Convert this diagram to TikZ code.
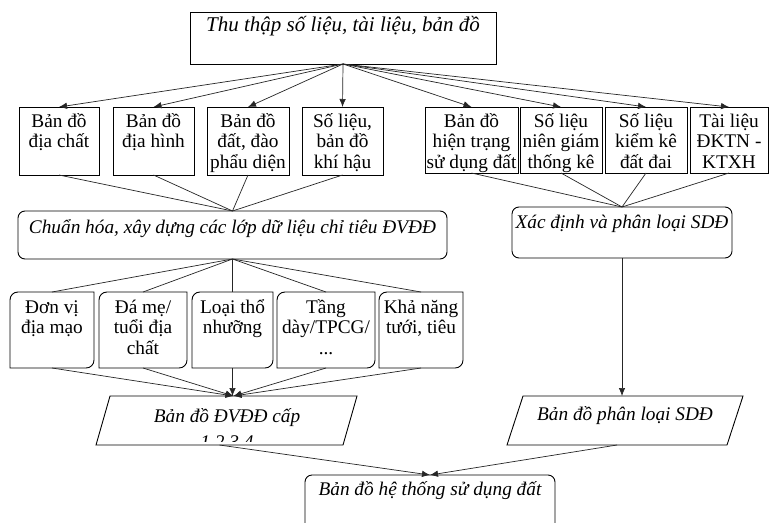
\documentclass[tikz,border=0pt]{standalone}
\usepackage{fontspec}
\setmainfont{Liberation Serif}
\usetikzlibrary{arrows.meta,calc}
\newcommand\bxt[4]{\parbox[c][#2pt][t]{#1pt}{\centering\rule{0pt}{#3pt}#4}}
\begin{document}
\begin{tikzpicture}[x=1pt,y=-1pt,
  every node/.style={inner sep=0pt, outer sep=0pt, font=\fontsize{19.3}{20.5}\selectfont},
  it/.style={font=\fontsize{19.3}{21}\selectfont\itshape},
  sq/.style={draw, line width=0.9pt},
  rbox/.style={draw, line width=0.9pt, rounded corners=7pt},
  ln/.style={line width=0.7pt, draw=black!85},
  arr/.style={ln, -{Latex[length=8pt,width=6.5pt]}}]
\useasboundingbox (0,0) rectangle (770,522);
\fill[white] (0,0) rectangle (770,522);
\clip (0,0) rectangle (770,522);

% top
\node[sq, font=\fontsize{21}{22}\selectfont\itshape] (t) at (343,38) {\bxt{306}{52}{19}{Thu thập số liệu, tài liệu, bản đồ}};

% row 2
\node[sq] (b1) at (59,141)   {\bxt{80}{68}{20}{Bản đồ\\địa chất}};
\node[sq] (b2) at (153.5,141){\bxt{81}{68}{20}{Bản đồ\\địa hình}};
\node[sq] (b3) at (248,141)  {\bxt{82}{68}{20}{Bản đồ\\đất, đào\\phẩu diện}};
\node[sq] (b4) at (342.5,141){\bxt{81}{68}{20}{Số liệu,\\bản đồ\\khí hậu}};
\node[sq] (b5) at (471.5,140){\bxt{93}{66}{20}{Bản đồ\\hiện trạng\\sử dụng đất}};
\node[sq] (b6) at (561,140)  {\bxt{82}{66}{20}{Số liệu\\niên giám\\thống kê}};
\node[sq] (b7) at (646,140)  {\bxt{82}{66}{20}{Số liệu\\kiểm kê\\đất đai}};
\node[sq] (b8) at (729,140)  {\bxt{78}{66}{20}{Tài liệu\\ĐKTN -\\KTXH}};

% middle rounded boxes
\node[rbox, it] (c) at (232.5,235) {\bxt{429}{48}{22}{Chuẩn hóa, xây dựng các lớp dữ liệu chỉ tiêu ĐVĐĐ}};
\node[rbox, it] (x) at (622,232.5) {\bxt{220}{51}{21}{Xác định và phân loại SDĐ}};

% row 3
\node (r3a) at (52,330)    {\bxt{84}{76}{21}{Đơn vị\\địa mạo}};
\node (r3b) at (143,330)   {\bxt{88}{76}{21}{Đá mẹ/\\tuổi địa\\chất}};
\node (r3c) at (232.5,330) {\bxt{81}{76}{21}{Loại thổ\\nhưỡng}};
\node (r3d) at (326,330)   {\bxt{98}{76}{21}{Tầng\\dày/TPCG/\\...}};
\node (r3e) at (421,330)   {\bxt{84}{76}{21}{Khả năng\\tưới, tiêu}};
\foreach \n in {r3a,r3b,r3c,r3d,r3e}{
  \draw[line width=0.9pt] (\n.south west) -- ($(\n.north west)+(0,8)$)
    .. controls ($(\n.north west)+(0,3.5)$) and ($(\n.north west)+(3.5,0)$) .. ($(\n.north west)+(8,0)$)
    -- (\n.north east) -- ($(\n.south east)+(0,-8)$)
    .. controls ($(\n.south east)+(0,-3.5)$) and ($(\n.south east)+(-3.5,0)$) .. ($(\n.south east)+(-8,0)$)
    -- cycle;
}

% parallelograms
\node[minimum width=247pt, minimum height=49pt] (p1) at (226.5,420.5) {};
\node[minimum width=220pt, minimum height=49pt] (p2) at (625,420.5) {};
\draw[line width=0.9pt] ($(p1.north west)+(7,0)$) -- ($(p1.north east)+(7,0)$) -- ($(p1.south east)+(-7,0)$) -- ($(p1.south west)+(-7,0)$) -- cycle;
\draw[line width=0.9pt] ($(p2.north west)+(8,0)$) -- ($(p2.north east)+(8,0)$) -- ($(p2.south east)+(-8,0)$) -- ($(p2.south west)+(-8,0)$) -- cycle;
\coordinate (p1top) at ($(p1.north)+(7,0)$);
\coordinate (p1bot) at ($(p1.south)+(-7,0)$);
\coordinate (p2bot) at ($(p2.south)+(-8,0)$);
\node[it, anchor=base] (p1t) at (227,422) {Bản đồ ĐVĐĐ cấp};
\begin{scope}
  \clip (90,396) rectangle (360,441);
  \node[it, anchor=base] (p1u) at (227,448) {1,2,3,4};
\end{scope}
\node[it, anchor=base] (p2t) at (625,420) {Bản đồ phân loại SDĐ};

% final
\node[rbox, it] (f) at (430,510) {\bxt{250}{70}{20}{Bản đồ hệ thống sử dụng đất}};

% connectors
\foreach \n in {b1,b2,b3,b4,b5,b6,b7,b8} \draw[arr] (t.south) -- (\n.north);
\foreach \n in {b1,b2,b3,b4} \draw[ln] (\n.south) -- (c.north);
\foreach \n in {b5,b6,b7,b8} \draw[ln] (\n.south) -- (x.north);
\foreach \n in {r3a,r3b,r3c,r3d,r3e} \draw[ln] (c.south) -- (\n.north);
\foreach \n in {r3a,r3b,r3d,r3e} \draw[arr] (\n.south) -- (p1top);
\draw[arr] (r3c.south) -- (r3c.south |- p1top);
\draw[arr] (x.south) -- (x.south |- p2.north);
\draw[arr] (p1bot) -- (f.north);
\draw[arr] (p2bot) -- (f.north);
\end{tikzpicture}
\end{document}
